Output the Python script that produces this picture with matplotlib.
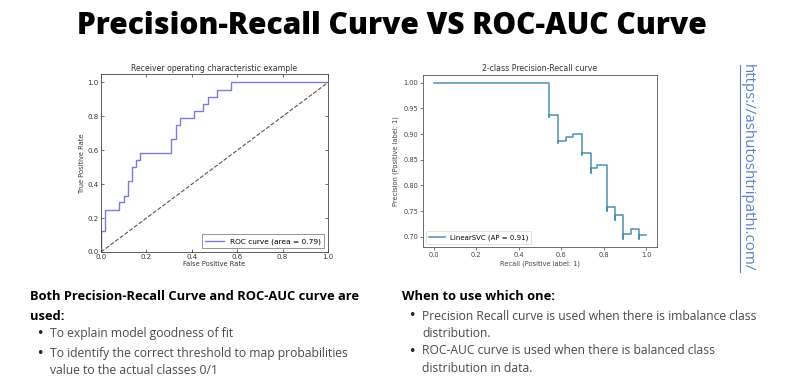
import numpy as np
import matplotlib.pyplot as plt
from matplotlib.lines import Line2D

plt.rcParams['font.family'] = ['DejaVu Sans']

# ROC curve (corner points, drawn as steps)
fpr = [0, 0, 0.018, 0.078, 0.10, 0.119, 0.136, 0.155, 0.173, 0.309, 0.331,
       0.348, 0.41, 0.451, 0.47, 0.51, 0.571, 1.0]
tpr = [0, 0.125, 0.25, 0.292, 0.333, 0.417, 0.5, 0.542, 0.583, 0.667, 0.75,
       0.792, 0.833, 0.875, 0.917, 0.958, 1.0, 1.0]
roc_auc = 0.79

# Precision-recall curve
recall = [0.0, 0.542, 0.542, 0.584, 0.584, 0.62, 0.656, 0.699, 0.699, 0.738,
          0.738, 0.769, 0.816, 0.816, 0.852, 0.852, 0.89, 0.89, 0.926, 0.965,
          0.965, 1.0]
precision = [1.0, 0.934, 0.937, 0.883, 0.887, 0.895, 0.90, 0.859, 0.864,
             0.825, 0.833, 0.84, 0.75, 0.758, 0.732, 0.742, 0.695, 0.705,
             0.715, 0.695, 0.703, 0.703]
ap = 0.91

left_head = ['Both Precision-Recall Curve and ROC-AUC curve are', 'used:']
left_items = ['To explain model goodness of fit',
              'To identify the correct threshold to map probabilities\nvalue to the actual classes 0/1']
right_head = 'When to use which one:'
right_items = ['Precision Recall curve is used when there is imbalance class\ndistribution.',
               'ROC-AUC curve is used when there is balanced class\ndistribution in data.']

fig = plt.figure(figsize=(8, 3.89), dpi=100)
W, H = 800.0, 389.0


def px_axes(l, t, r, b):
    return fig.add_axes([l / W, 1 - b / H, (r - l) / W, (b - t) / H])


# ---- ROC (old classic style) ----
ax1 = px_axes(101, 74, 328, 252)
ax1.plot(fpr, tpr, color='#7b7bdf', lw=1.0, drawstyle='steps-post',
         label='ROC curve (area = %0.2f)' % roc_auc)
ax1.plot([0, 1], [0, 1], color='#555555', lw=0.8, ls='--')
ax1.set_xlim(0, 1.0)
ax1.set_ylim(0, 1.05)
ax1.set_xticks(np.arange(0, 1.01, 0.2))
ax1.set_yticks(np.arange(0, 1.01, 0.2))
ax1.tick_params(direction='in', length=2.5, width=0.5, labelsize=5, pad=1.5,
                top=True, right=True, colors='#333333')
ax1.set_xlabel('False Positive Rate', fontsize=4.8, labelpad=1, color='#333333')
ax1.set_ylabel('True Positive Rate', fontsize=4.8, labelpad=2, color='#333333')
ax1.set_title('Receiver operating characteristic example', fontsize=5.6,
              pad=2.5, color='#333333')
for s in ax1.spines.values():
    s.set_linewidth(0.6)
    s.set_color('#444444')
leg = ax1.legend(loc='lower right', fontsize=5.3, handlelength=2.5,
                 fancybox=False, borderpad=0.5)
leg.get_frame().set_edgecolor('#444444')
leg.get_frame().set_linewidth(0.5)

# ---- Precision-Recall ----
ax2 = px_axes(423, 75, 657, 247)
ax2.plot(recall, precision, color='#4b92b0', lw=1.1, drawstyle='steps-post',
         label='LinearSVC (AP = %0.2f)' % ap)
ax2.set_xlim(-0.05, 1.05)
ax2.set_ylim(0.68, 1.015)
ax2.set_xticks(np.arange(0, 1.01, 0.2))
ax2.set_yticks([0.70, 0.75, 0.80, 0.85, 0.90, 0.95, 1.00])
ax2.set_yticklabels(['%.2f' % v for v in ax2.get_yticks()])
ax2.tick_params(length=2, width=0.5, labelsize=4.8, pad=1.5, colors='#444444')
ax2.set_xlabel('Recall (Positive label: 1)', fontsize=4.8, labelpad=2,
               color='#444444')
ax2.set_ylabel('Precision (Positive label: 1)', fontsize=4.8, labelpad=3,
               color='#444444')
ax2.set_title('2-class Precision-Recall curve', fontsize=5.6, pad=3,
              color='#333333')
for s in ax2.spines.values():
    s.set_linewidth(0.6)
    s.set_color('#555555')
leg2 = ax2.legend(loc='lower left', fontsize=5, handlelength=2.2)
leg2.get_frame().set_linewidth(0.5)

# ---- headline ----
fig.text(392 / W, 1 - 26 / H, 'Precision-Recall Curve VS ROC-AUC Curve',
         ha='center', va='center', fontsize=21.5, fontweight='heavy',
         family='Open Sans', color='black')

# ---- vertical link ----
fig.text(747 / W, 1 - 168 / H, 'https://ashutoshtripathi.com/',
         rotation=-90, ha='center', va='center', fontsize=10.8,
         family='Open Sans', color='#5b7fcf')
fig.add_artist(Line2D([740 / W, 740 / W], [1 - 65 / H, 1 - 272 / H],
                      color='#5b7fcf', lw=0.8))

# ---- bottom notes ----
body = dict(family='Open Sans', fontsize=8.7, color='#4a4a4a', va='center')
bullet = dict(family='DejaVu Sans', fontsize=9, color='#222222', va='center')
head = dict(family='Open Sans', fontsize=9.3, fontweight='bold', color='black',
            va='center')

fig.text(30 / W, 1 - 297 / H, left_head[0], **head)
fig.text(30 / W, 1 - 316 / H, left_head[1], **head)
for y, txt in zip([334, 353], left_items):
    fig.text(36 / W, 1 - y / H, u'\u2022', **bullet)
    for i, ln in enumerate(txt.split('\n')):
        fig.text(50 / W, 1 - (y + 18 * i) / H, ln, **body)

fig.text(402 / W, 1 - 297 / H, right_head, **head)
for y, txt in zip([316, 351], right_items):
    fig.text(408 / W, 1 - y / H, u'\u2022', **bullet)
    for i, ln in enumerate(txt.split('\n')):
        fig.text(422 / W, 1 - (y + 17.5 * i) / H, ln, **body)

fig.savefig('out.png', dpi=100)
